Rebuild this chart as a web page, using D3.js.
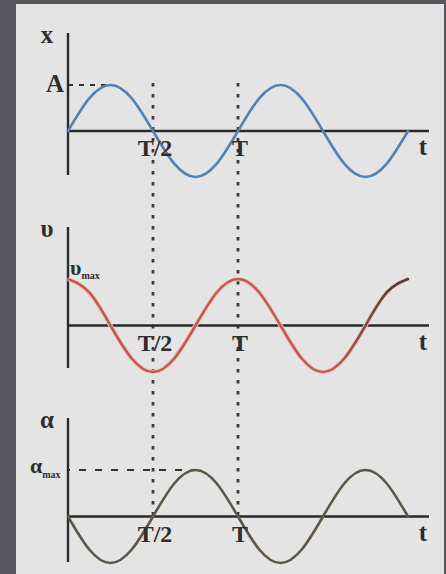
<!DOCTYPE html>
<html>
<head>
<meta charset="utf-8">
<script src="https://cdn.jsdelivr.net/npm/d3@7"></script>
<style>
  html, body { margin: 0; padding: 0; background: #55555b; }
  svg { display: block; }
  text { font-family: "Liberation Serif", "Times New Roman", serif; fill: #2e2e2e; font-weight: bold; }
</style>
</head>
<body>
<div id="chart"></div>
<script>
// time samples, in units of the period T
var tValues = [0, 0.125, 0.25, 0.375, 0.5, 0.625, 0.75, 0.875, 1,
               1.125, 1.25, 1.375, 1.5, 1.625, 1.75, 1.875, 2];
// displacement x (in units of A)
var xValues = [0, 0.71, 1, 0.71, 0, -0.71, -1, -0.71, 0,
               0.71, 1, 0.71, 0, -0.71, -1, -0.71, 0];
// velocity v (in units of v_max)
var vValues = [1, 0.71, 0, -0.71, -1, -0.71, 0, 0.71, 1,
               0.71, 0, -0.71, -1, -0.71, 0, 0.71, 1];
// acceleration a (in units of a_max)
var aValues = [0, -0.71, -1, -0.71, 0, 0.71, 1, 0.71, 0,
               -0.71, -1, -0.71, 0, 0.71, 1, 0.71, 0];
// marked instants on the time axis
var markTimes = [0.5, 1];
var markLabels = ["T/2", "T"];

var width = 446, height = 574;

var svg = d3.select("#chart").append("svg")
    .attr("width", width)
    .attr("height", height);

// light sheet on dark background
svg.append("rect")
    .attr("x", 16).attr("y", 4)
    .attr("width", 428).attr("height", 572)
    .attr("fill", "#e4e4e4");

var defs = svg.append("defs");
var grad = defs.append("linearGradient")
    .attr("id", "vGrad")
    .attr("gradientUnits", "userSpaceOnUse")
    .attr("x1", 335).attr("y1", 0)
    .attr("x2", 395).attr("y2", 0);
grad.append("stop").attr("offset", 0).attr("stop-color", "#c45a4c");
grad.append("stop").attr("offset", 1).attr("stop-color", "#4a3c38");

var x = d3.scaleLinear().domain([0, 2]).range([68, 408]);
var axisEnd = 429;

// one entry per graph
var panels = [
    { values: xValues, zero: 131, amp: 46, top: 33, bottom: 175, color: "#5283b8", name: "x" },
    { values: vValues, zero: 325.5, amp: 46.5, top: 227, bottom: 368, color: "url(#vGrad)", name: "υ" },
    { values: aValues, zero: 516.5, amp: 46.5, top: 418, bottom: 562, color: "#5e5647", name: "α" }
];

panels.forEach(function(p) {
    p.y = d3.scaleLinear().domain([-1, 1]).range([p.zero + p.amp, p.zero - p.amp]);
});

// vertical dotted guides through all three graphs
var guides = svg.append("g").attr("id", "guideLayer");
guides.selectAll("line")
    .data(markTimes)
    .enter()
    .append("line")
    .attr("x1", function(d) { return x(d); })
    .attr("x2", function(d) { return x(d); })
    .attr("y1", 83)
    .attr("y2", panels[2].zero)
    .attr("stroke", "#3a3a3a")
    .attr("stroke-width", 2.8)
    .attr("stroke-dasharray", "3.5,7.5");

// dashed amplitude helpers
svg.append("line")
    .attr("x1", x(0)).attr("x2", x(0.23))
    .attr("y1", panels[0].y(1)).attr("y2", panels[0].y(1))
    .attr("stroke", "#333").attr("stroke-width", 2)
    .attr("stroke-dasharray", "5,6");
svg.append("line")
    .attr("x1", x(0)).attr("x2", x(0.75))
    .attr("y1", panels[2].y(1)).attr("y2", panels[2].y(1))
    .attr("stroke", "#333").attr("stroke-width", 2.2)
    .attr("stroke-dasharray", "7,9")
    .attr("stroke-dashoffset", -11);

var line = d3.line()
    .x(function(d, i) { return x(tValues[i]); })
    .curve(d3.curveNatural);

panels.forEach(function(p, k) {
    var g = svg.append("g").attr("id", "panel" + k);

    // axes
    g.append("line")
        .attr("x1", x(0)).attr("x2", x(0))
        .attr("y1", p.top).attr("y2", p.bottom)
        .attr("stroke", "#2a2a2a").attr("stroke-width", 2.4);
    g.append("line")
        .attr("x1", x(0)).attr("x2", axisEnd)
        .attr("y1", p.zero).attr("y2", p.zero)
        .attr("stroke", "#2a2a2a").attr("stroke-width", 2.4);

    line.y(function(d) { return p.y(d); });

    if (k === 1) {
        // faint halo seen round the red trace
        g.append("path")
            .attr("d", line(p.values))
            .attr("fill", "none")
            .attr("stroke", "#eacbc4")
            .attr("stroke-width", 4.5);
    }
    g.append("path")
        .attr("d", line(p.values))
        .attr("fill", "none")
        .attr("stroke", p.color)
        .attr("stroke-width", 2.6)
        .attr("stroke-linecap", "round");

    // time labels
    g.selectAll("text.mark")
        .data(markTimes)
        .enter()
        .append("text")
        .attr("class", "mark")
        .attr("x", function(d) { return x(d) + 2; })
        .attr("y", p.zero + 25)
        .attr("text-anchor", "middle")
        .attr("font-size", 24)
        .text(function(d, i) { return markLabels[i]; });

    g.append("text")
        .attr("x", 423)
        .attr("y", p.zero + 24)
        .attr("text-anchor", "middle")
        .attr("font-size", 25)
        .text("t");

    g.append("text")
        .attr("x", 47)
        .attr("y", p.top + 10)
        .attr("text-anchor", "middle")
        .attr("font-size", 25)
        .text(p.name);
});

// amplitude labels
svg.append("text")
    .attr("x", 64).attr("y", panels[0].y(1) + 7)
    .attr("text-anchor", "end")
    .attr("font-size", 25)
    .text("A");

var vmax = svg.append("text")
    .attr("x", 70).attr("y", panels[1].y(1) - 4)
    .attr("font-size", 22);
vmax.append("tspan").text("υ");
vmax.append("tspan").attr("font-size", 10)
    .attr("dy", 4).text("max");

var amax = svg.append("text")
    .attr("x", 30).attr("y", panels[2].y(1) + 3)
    .attr("font-size", 22);
amax.append("tspan").text("α");
amax.append("tspan").attr("font-size", 10)
    .attr("dy", 5).text("max");
</script>
</body>
</html>
